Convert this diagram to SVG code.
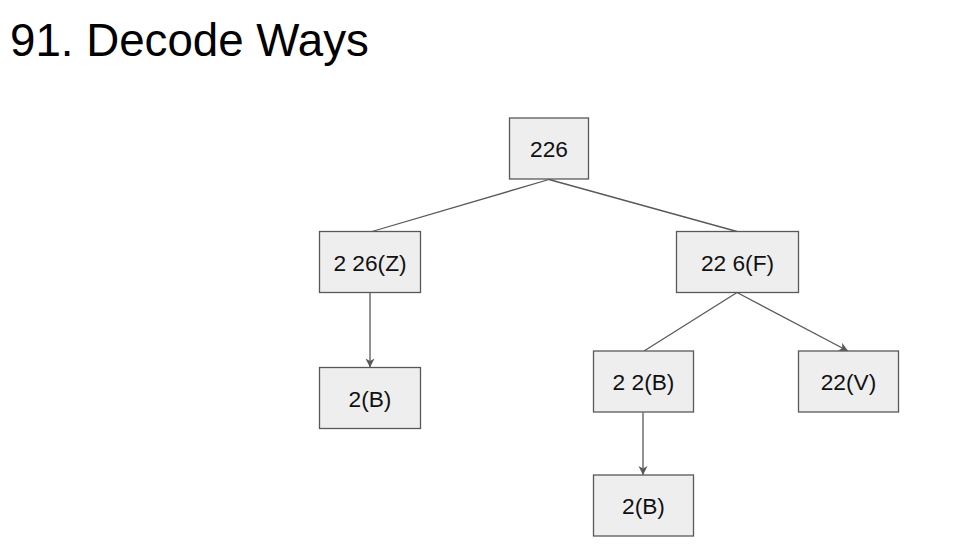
<svg xmlns="http://www.w3.org/2000/svg" width="980" height="548" viewBox="0 0 980 548">
<style>
.box{fill:#eeeeee;stroke:#595959;stroke-width:1.3}
.lbl{font-family:"Liberation Sans",Arial,sans-serif;font-size:22.7px;fill:#111111;text-anchor:middle}
.edge{stroke:#595959;stroke-width:1.3;fill:none}
</style>
<defs>
<marker id="arr" markerUnits="userSpaceOnUse" markerWidth="10" markerHeight="10" refX="9" refY="4.5" orient="auto">
<path d="M0,0 L9,4.5 L0,9 L2.5,4.5 Z" fill="#595959"/>
</marker>
</defs>
<rect width="980" height="548" fill="#ffffff"/>
<text x="10" y="56" font-family="'Liberation Sans',Arial,sans-serif" font-size="45.7" fill="#000000">91. Decode Ways</text>
<g id="connectors">
<line class="edge" x1="549" y1="179.5" x2="372" y2="231.5"/>
<line class="edge" x1="549" y1="179.5" x2="737" y2="231.5"/>
<line class="edge" x1="370" y1="292.5" x2="370" y2="367.5" marker-end="url(#arr)"/>
<line class="edge" x1="737" y1="292.5" x2="644" y2="351"/>
<line class="edge" x1="737" y1="292.5" x2="848" y2="351" marker-end="url(#arr)"/>
<line class="edge" x1="643" y1="412.5" x2="643" y2="475" marker-end="url(#arr)"/>
</g>
<g id="n226"><rect class="box" x="509.5" y="118" width="79" height="61"/><text class="lbl" x="549" y="157">226</text></g>
<g id="n2_26Z"><rect class="box" x="319.5" y="231.5" width="101" height="61"/><text class="lbl" x="370" y="270.5">2 26(Z)</text></g>
<g id="n22_6F"><rect class="box" x="676.5" y="231.5" width="122" height="61"/><text class="lbl" x="737.5" y="270.5">22 6(F)</text></g>
<g id="n2B_left"><rect class="box" x="319.5" y="367.5" width="101" height="61"/><text class="lbl" x="370" y="406.5">2(B)</text></g>
<g id="n2_2B"><rect class="box" x="593.5" y="351" width="100" height="61"/><text class="lbl" x="643.5" y="390">2 2(B)</text></g>
<g id="n22V"><rect class="box" x="798.5" y="351" width="100" height="61"/><text class="lbl" x="848.5" y="390">22(V)</text></g>
<g id="n2B_bottom"><rect class="box" x="593.5" y="475" width="100" height="61"/><text class="lbl" x="643.5" y="514">2(B)</text></g>
</svg>
